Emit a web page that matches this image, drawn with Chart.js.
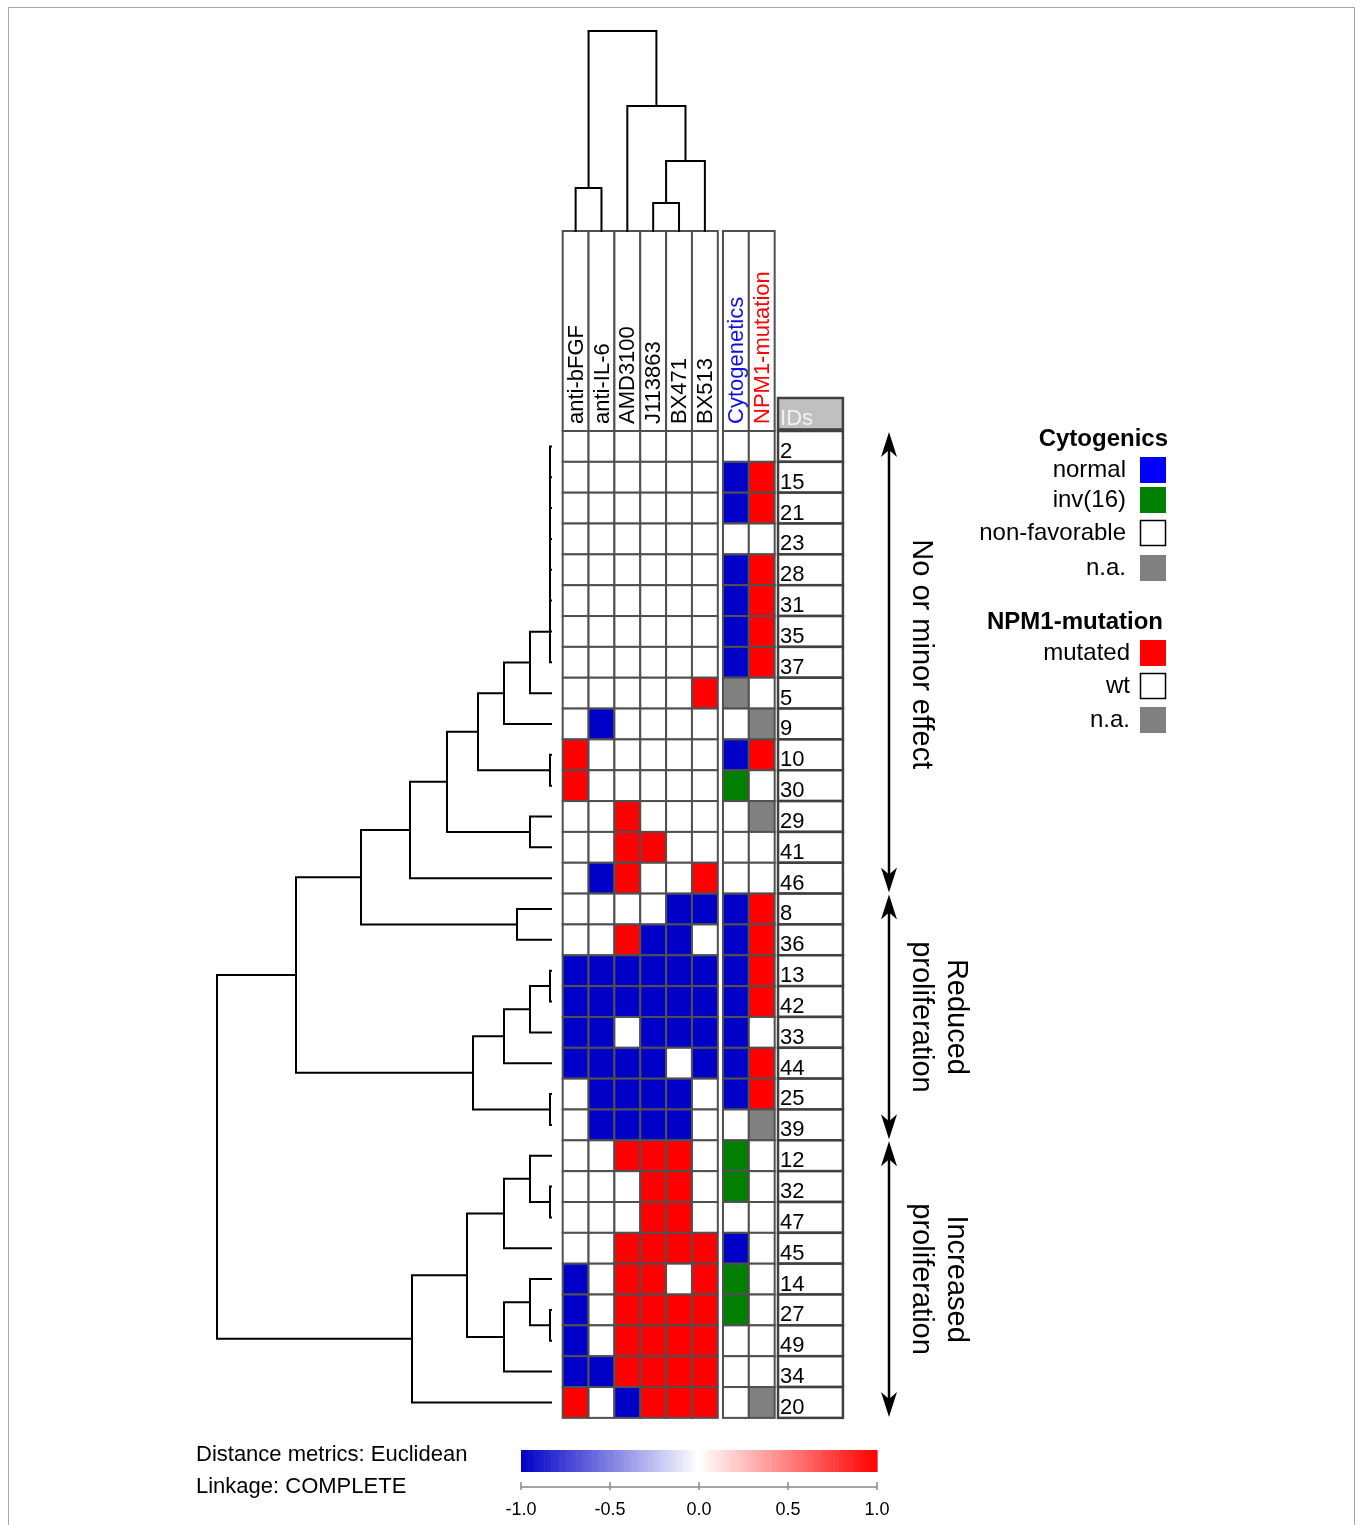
<!DOCTYPE html>
<html>
<head>
<meta charset="utf-8">
<script src="https://cdn.jsdelivr.net/npm/chart.js@4.4.0/dist/chart.umd.min.js"></script>
<style>
  body { margin: 0; background: #fff; }
  #wrap { width: 1361px; height: 1525px; position: relative; }
</style>
</head>
<body>
<div id="wrap"><canvas id="heatmap"></canvas></div>
<script>
// patient IDs, in the order of the row dendrogram
var rowIds = ['2','15','21','23','28','31','35','37','5','9','10','30','29','41','46',
              '8','36','13','42','33','44','25','39',
              '12','32','47','45','14','27','49','34','20'];

var drugs = ['anti-bFGF','anti-IL-6','AMD3100','J113863','BX471','BX513'];

// -1 reduced, 0 no effect, 1 increased (one row per patient, one value per drug)
var response = [
  [0,0,0,0,0,0],      // 2
  [0,0,0,0,0,0],      // 15
  [0,0,0,0,0,0],      // 21
  [0,0,0,0,0,0],      // 23
  [0,0,0,0,0,0],      // 28
  [0,0,0,0,0,0],      // 31
  [0,0,0,0,0,0],      // 35
  [0,0,0,0,0,0],      // 37
  [0,0,0,0,0,1],      // 5
  [0,-1,0,0,0,0],     // 9
  [1,0,0,0,0,0],      // 10
  [1,0,0,0,0,0],      // 30
  [0,0,1,0,0,0],      // 29
  [0,0,1,1,0,0],      // 41
  [0,-1,1,0,0,1],     // 46
  [0,0,0,0,-1,-1],    // 8
  [0,0,1,-1,-1,0],    // 36
  [-1,-1,-1,-1,-1,-1],// 13
  [-1,-1,-1,-1,-1,-1],// 42
  [-1,-1,0,-1,-1,-1], // 33
  [-1,-1,-1,-1,0,-1], // 44
  [0,-1,-1,-1,-1,0],  // 25
  [0,-1,-1,-1,-1,0],  // 39
  [0,0,1,1,1,0],      // 12
  [0,0,0,1,1,0],      // 32
  [0,0,0,1,1,0],      // 47
  [0,0,1,1,1,1],      // 45
  [-1,0,1,1,0,1],     // 14
  [-1,0,1,1,1,1],     // 27
  [-1,0,1,1,1,1],     // 49
  [-1,-1,1,1,1,1],    // 34
  [1,0,-1,1,1,1]      // 20
];

var cytogenetics = ['non-favorable','normal','normal','non-favorable','normal','normal','normal','normal',
  'n.a.','non-favorable','normal','inv(16)','non-favorable','non-favorable','non-favorable',
  'normal','normal','normal','normal','normal','normal','normal','non-favorable',
  'inv(16)','inv(16)','non-favorable','normal','inv(16)','inv(16)','non-favorable','non-favorable','non-favorable'];

var npm1 = ['wt','mutated','mutated','wt','mutated','mutated','mutated','mutated',
  'wt','n.a.','mutated','wt','n.a.','wt','wt',
  'mutated','mutated','mutated','mutated','wt','mutated','mutated','n.a.',
  'wt','wt','wt','wt','wt','wt','wt','wt','n.a.'];

// hclust style merges: negative = leaf (1-based), positive = earlier merge (1-based)
var rowMerges = [
  [-1,-2],[1,-3],[2,-4],[3,-5],[4,-6],[5,-7],[6,-8],
  [-11,-12],[-18,-19],[-22,-23],[-25,-26],[-29,-30],
  [7,-9],[-13,-14],[9,-20],[-24,11],[-28,12],[-16,-17],
  [13,-10],[15,-21],[16,-27],[17,-31],
  [19,8],[20,10],[21,22],[23,14],[25,-32],[26,-15],[28,18],[29,24],[30,27]
];
var rowMergeHeights = [
  0.01,0.01,0.01,0.01,0.01,0.01,0.01,
  0.01,0.01,0.01,0.01,0.01,
  0.21,0.21,0.21,0.21,0.21,0.34,
  0.47,0.47,0.47,0.47,
  0.73,0.78,0.84,1.04,1.39,1.41,1.90,2.55,3.34
];

var colMerges = [[-1,-2],[-4,-5],[2,-6],[-3,3],[1,4]];
var colMergeHeights = [0.43,0.28,0.70,1.25,2.00];

var groups = ['No or minor effect', 'Reduced\nproliferation', 'Increased\nproliferation'];
var groupStart = [0, 15, 23];
var groupEnd = [15, 23, 32];

var colorbarTicks = [-1.0, -0.5, 0.0, 0.5, 1.0];

var cytoLevels = ['normal','inv(16)','non-favorable','n.a.'];
var npmLevels = ['mutated','wt','n.a.'];

// ---- layout ----
var W = 1361, H = 1525;
var gridLeft = 562.7, cellW = 25.85;   // drug columns
var gridTop = 431, cellH = 30.84;      // rows
var rowLeafX = 551, colLeafY = 231, dendroScale = 100;
var barLeft = 521, barRight = 877;
var FONT = "'Liberation Sans', Arial, sans-serif";

var cytoFill = { 'normal': '#0000c8', 'inv(16)': '#007f00', 'non-favorable': '#ffffff', 'n.a.': '#808080' };
var npmFill = { 'mutated': '#ff0000', 'wt': '#ffffff', 'n.a.': '#808080' };
var cytoKey = { 'normal': '#0000ff', 'inv(16)': '#008000', 'non-favorable': '#ffffff', 'n.a.': '#808080' };

function colorFor(v) {
  var t = Math.min(1, Math.abs(v));
  if (v < 0) {
    return 'rgb(' + Math.round(255 * (1 - t)) + ',' + Math.round(255 * (1 - t)) + ',' + Math.round(255 - 55 * t) + ')';
  }
  return 'rgb(255,' + Math.round(255 * (1 - t)) + ',' + Math.round(255 * (1 - t)) + ')';
}

function dendroSegments(merges, heights) {
  var pos = [], hgt = [], segs = [];
  function p(k) { return k < 0 ? -k - 0.5 : pos[k - 1]; }
  function h(k) { return k < 0 ? 0 : hgt[k - 1]; }
  for (var i = 0; i < merges.length; i++) {
    var a = merges[i][0], b = merges[i][1], m = heights[i];
    segs.push([[h(a), p(a)], [m, p(a)], [m, p(b)], [h(b), p(b)]]);
    pos.push((p(a) + p(b)) / 2);
    hgt.push(m);
  }
  return segs;
}

var datasets = [];
dendroSegments(rowMerges, rowMergeHeights).forEach(function (s) {
  datasets.push({
    data: s.map(function (q) { return { x: q[0], y: q[1] }; }),
    xAxisID: 'xd', yAxisID: 'y'
  });
});
dendroSegments(colMerges, colMergeHeights).forEach(function (s) {
  datasets.push({
    data: s.map(function (q) { return { x: q[1], y: q[0] }; }),
    xAxisID: 'x', yAxisID: 'yd'
  });
});
datasets.forEach(function (d) {
  d.showLine = true; d.borderColor = '#000'; d.borderWidth = 2;
  d.pointRadius = 0; d.tension = 0; d.fill = false;
  d.borderCapStyle = 'square'; d.borderJoinStyle = 'miter';
});

function cellRect(xs, ys, c0, c1, r0, r1) {
  var x0 = xs.getPixelForValue(c0), x1 = xs.getPixelForValue(c1);
  var y0 = ys.getPixelForValue(r0), y1 = ys.getPixelForValue(r1);
  return [x0, y0, x1 - x0, y1 - y0];
}

function arrowHead(ctx, x, y, dir) {
  ctx.beginPath();
  ctx.moveTo(x, y);
  ctx.lineTo(x - 8, y + dir * 25);
  ctx.lineTo(x, y + dir * 18);
  ctx.lineTo(x + 8, y + dir * 25);
  ctx.closePath();
  ctx.fill();
}

var heatmapPlugin = {
  id: 'heatmapCells',
  beforeDatasetsDraw: function (chart) {
    var ctx = chart.ctx;
    var xs = chart.scales.x, ys = chart.scales.y, xc = chart.scales.xc;
    ctx.save();

    // figure frame
    ctx.strokeStyle = '#a8a8a8'; ctx.lineWidth = 1;
    ctx.strokeRect(8.5, 7.5, 1346, 1600);

    var annoCols = [6.2, 7.2];
    var idCol = [8.33, 10.84];
    var headTop = (colLeafY - gridTop) / cellH;

    // header boxes with column labels
    ctx.strokeStyle = '#505050'; ctx.lineWidth = 2;
    var headers = drugs.map(function (d, i) { return { c: i, t: d, col: '#000' }; });
    headers.push({ c: annoCols[0], t: 'Cytogenetics', col: '#1010e0' });
    headers.push({ c: annoCols[1], t: 'NPM1-mutation', col: '#ff0000' });
    headers.forEach(function (h) {
      var r = cellRect(xs, ys, h.c, h.c + 1, headTop, 0);
      ctx.fillStyle = '#fff';
      ctx.fillRect(r[0], r[1], r[2], r[3]);
      ctx.strokeRect(r[0], r[1], r[2], r[3]);
      ctx.save();
      ctx.translate(r[0] + r[2] / 2 + 1, ys.getPixelForValue(0) - 7);
      ctx.rotate(-Math.PI / 2);
      ctx.fillStyle = h.col;
      ctx.font = '22px ' + FONT;
      ctx.textAlign = 'left'; ctx.textBaseline = 'middle';
      ctx.fillText(h.t, 0, 0);
      ctx.restore();
    });

    // cells
    for (var i = 0; i < rowIds.length; i++) {
      for (var j = 0; j < drugs.length; j++) {
        var r = cellRect(xs, ys, j, j + 1, i, i + 1);
        ctx.fillStyle = colorFor(response[i][j]);
        ctx.fillRect(r[0], r[1], r[2], r[3]);
        ctx.strokeRect(r[0], r[1], r[2], r[3]);
      }
      var ra = cellRect(xs, ys, annoCols[0], annoCols[0] + 1, i, i + 1);
      ctx.fillStyle = cytoFill[cytogenetics[i]];
      ctx.fillRect(ra[0], ra[1], ra[2], ra[3]);
      ctx.strokeRect(ra[0], ra[1], ra[2], ra[3]);
      var rb = cellRect(xs, ys, annoCols[1], annoCols[1] + 1, i, i + 1);
      ctx.fillStyle = npmFill[npm1[i]];
      ctx.fillRect(rb[0], rb[1], rb[2], rb[3]);
      ctx.strokeRect(rb[0], rb[1], rb[2], rb[3]);
    }

    // ID column
    ctx.lineWidth = 2.5; ctx.strokeStyle = '#404040';
    var hb = cellRect(xs, ys, idCol[0], idCol[1], -1.07, -0.05);
    ctx.fillStyle = '#c0c0c0';
    ctx.fillRect(hb[0], hb[1], hb[2], hb[3]);
    ctx.strokeRect(hb[0], hb[1], hb[2], hb[3]);
    ctx.fillStyle = '#f2f2f2';
    ctx.font = '22px ' + FONT;
    ctx.textAlign = 'left'; ctx.textBaseline = 'alphabetic';
    ctx.fillText('IDs', hb[0] + 2, hb[1] + hb[3] - 4);
    for (var k = 0; k < rowIds.length; k++) {
      var ri = cellRect(xs, ys, idCol[0], idCol[1], k, k + 1);
      ctx.fillStyle = '#fff';
      ctx.fillRect(ri[0], ri[1], ri[2], ri[3]);
      ctx.strokeRect(ri[0], ri[1], ri[2], ri[3]);
      ctx.fillStyle = '#000';
      ctx.fillText(rowIds[k], ri[0] + 2, ri[1] + ri[3] - 4);
    }

    // group arrows
    var ax = 889;
    ctx.strokeStyle = '#000'; ctx.fillStyle = '#000'; ctx.lineWidth = 2.5;
    for (var g = 0; g < groups.length; g++) {
      var y0 = ys.getPixelForValue(groupStart[g]), y1 = ys.getPixelForValue(groupEnd[g]);
      ctx.beginPath();
      ctx.moveTo(ax, y0 + 10); ctx.lineTo(ax, y1 - 10);
      ctx.stroke();
      arrowHead(ctx, ax, y0 + 1, 1);
      arrowHead(ctx, ax, y1 - 1, -1);
      var lines = groups[g].split('\n');
      var mid = (y0 + y1) / 2 - (lines.length === 1 ? 8 : 0);
      ctx.save();
      ctx.font = '29px ' + FONT;
      ctx.textAlign = 'center'; ctx.textBaseline = 'middle';
      for (var L = 0; L < lines.length; L++) {
        ctx.save();
        ctx.translate(921 + (lines.length - 1 - L) * 35, mid);
        ctx.rotate(Math.PI / 2);
        ctx.fillText(lines[L], 0, 0);
        ctx.restore();
      }
      ctx.restore();
    }

    // colour key
    var steps = 200;
    for (var s = 0; s < steps; s++) {
      var v0 = -1 + 2 * s / steps, v1 = -1 + 2 * (s + 1) / steps;
      var vm = (v0 + v1) / 2;
      var px0 = xc.getPixelForValue(v0), px1 = xc.getPixelForValue(v1);
      ctx.fillStyle = Math.abs(vm) < 0.025 ? '#fff' : colorFor(vm);
      ctx.fillRect(px0, 1450, px1 - px0 + 0.6, 22);
    }
    ctx.strokeStyle = '#888'; ctx.lineWidth = 1.5;
    ctx.beginPath();
    ctx.moveTo(xc.getPixelForValue(-1), 1487); ctx.lineTo(xc.getPixelForValue(1), 1487);
    colorbarTicks.forEach(function (t) {
      var px = xc.getPixelForValue(t);
      ctx.moveTo(px, 1482); ctx.lineTo(px, 1490);
    });
    ctx.stroke();
    ctx.fillStyle = '#000';
    ctx.font = '18px ' + FONT;
    ctx.textAlign = 'center'; ctx.textBaseline = 'middle';
    colorbarTicks.forEach(function (t) {
      ctx.fillText(t.toFixed(1), xc.getPixelForValue(t), 1510);
    });

    // method notes
    ctx.font = '22px ' + FONT;
    ctx.textAlign = 'left';
    ctx.fillText('Distance metrics: Euclidean', 196, 1455);
    ctx.fillText('Linkage: COMPLETE', 196, 1487);

    // legends
    ctx.textAlign = 'right';
    ctx.font = 'bold 24px ' + FONT;
    ctx.fillText('Cytogenics', 1168, 439);
    ctx.fillText('NPM1-mutation', 1163, 622);
    ctx.font = '24px ' + FONT;
    ctx.strokeStyle = '#000'; ctx.lineWidth = 1.5;
    var cytoY = [470, 500, 533, 568];
    cytoLevels.forEach(function (lv, n) {
      ctx.fillStyle = '#000';
      ctx.fillText(lv, 1126, cytoY[n]);
      ctx.fillStyle = cytoKey[lv];
      ctx.fillRect(1140, cytoY[n] - 13, 26, 26);
      if (lv === 'non-favorable') ctx.strokeRect(1140.5, cytoY[n] - 12.5, 25, 25);
    });
    var npmY = [653, 686, 720];
    npmLevels.forEach(function (lv, n) {
      ctx.fillStyle = '#000';
      ctx.fillText(lv, 1130, npmY[n]);
      ctx.fillStyle = npmFill[lv];
      ctx.fillRect(1140, npmY[n] - 13, 26, 26);
      if (lv === 'wt') ctx.strokeRect(1140.5, npmY[n] - 12.5, 25, 25);
    });

    ctx.restore();
  }
};

new Chart(document.getElementById('heatmap'), {
  type: 'scatter',
  data: { datasets: datasets },
  options: {
    responsive: true,
    maintainAspectRatio: false,
    animation: false,
    devicePixelRatio: 1,
    layout: { padding: 0 },
    plugins: { legend: { display: false }, tooltip: { enabled: false }, title: { display: false } },
    scales: {
      x: { type: 'linear', display: false, bounds: 'data', min: -gridLeft / cellW, max: (W - gridLeft) / cellW },
      y: { type: 'linear', display: false, bounds: 'data', reverse: true, min: -gridTop / cellH, max: (H - gridTop) / cellH },
      xd: { type: 'linear', display: false, bounds: 'data', reverse: true, min: rowLeafX / dendroScale - W / dendroScale, max: rowLeafX / dendroScale },
      yd: { type: 'linear', display: false, bounds: 'data', min: colLeafY / dendroScale - H / dendroScale, max: colLeafY / dendroScale },
      xc: { type: 'linear', display: false, bounds: 'data',
            min: -1 - barLeft * 2 / (barRight - barLeft), max: -1 + (W - barLeft) * 2 / (barRight - barLeft) }
    }
  },
  plugins: [heatmapPlugin]
});
</script>
</body>
</html>
